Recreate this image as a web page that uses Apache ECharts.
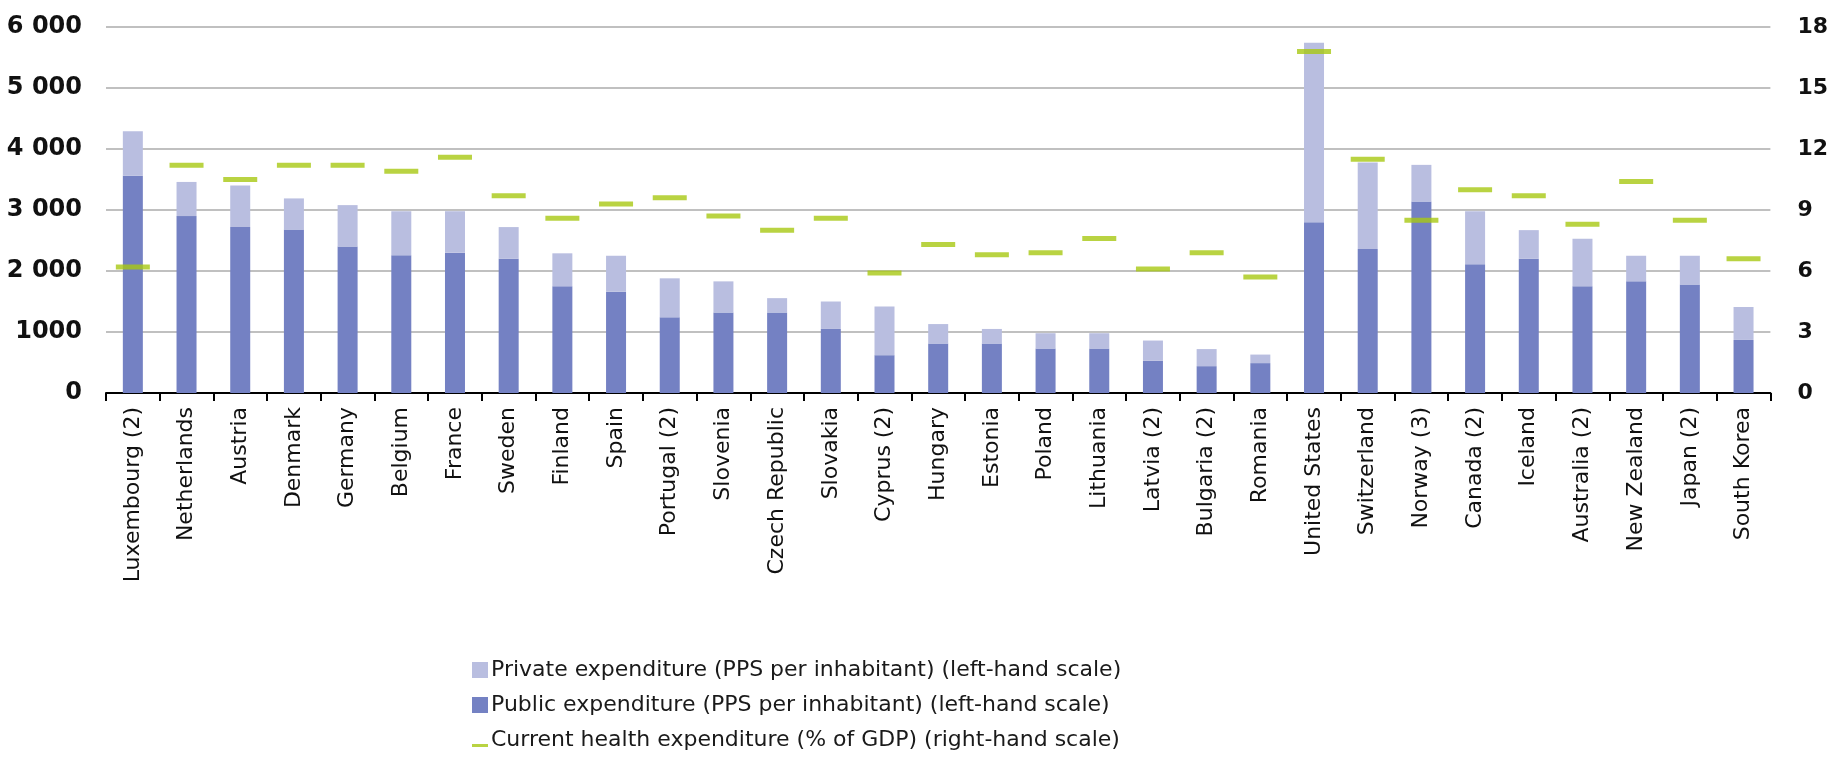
<!DOCTYPE html>
<html lang="en">
<head>
    <meta charset="UTF-8">
    <title>Health expenditure</title>
    <script src="https://cdn.jsdelivr.net/npm/echarts@6/dist/echarts.min.js"></script>
    <style>
        html, body { margin: 0; padding: 0; background: #fff; }
        #chart { width: 1831px; height: 762px; }
    </style>
</head>
<body>
    <div id="chart"></div>
    <script>
        var countries = ['Luxembourg (2)', 'Netherlands', 'Austria', 'Denmark', 'Germany', 'Belgium', 'France', 'Sweden',
            'Finland', 'Spain', 'Portugal (2)', 'Slovenia', 'Czech Republic', 'Slovakia', 'Cyprus (2)', 'Hungary',
            'Estonia', 'Poland', 'Lithuania', 'Latvia (2)', 'Bulgaria (2)', 'Romania', 'United States', 'Switzerland',
            'Norway (3)', 'Canada (2)', 'Iceland', 'Australia (2)', 'New Zealand', 'Japan (2)', 'South Korea'];
        // PPS per inhabitant
        var publicExp = [3560, 2900, 2720, 2680, 2400, 2260, 2300, 2200, 1750, 1660, 1240, 1320, 1320, 1050, 620, 810,
            810, 730, 730, 530, 440, 490, 2800, 2360, 3140, 2110, 2200, 1750, 1830, 1780, 870];
        var privateExp = [730, 560, 680, 510, 680, 720, 680, 520, 540, 590, 640, 510, 235, 450, 800, 320,
            240, 250, 250, 330, 280, 140, 2940, 1420, 600, 870, 470, 780, 420, 470, 540];
        // % of GDP
        var gdpShare = [6.2, 11.2, 10.5, 11.2, 11.2, 10.9, 11.6, 9.7, 8.6, 9.3, 9.6, 8.7, 8.0, 8.6, 5.9, 7.3,
            6.8, 6.9, 7.6, 6.1, 6.9, 5.7, 16.8, 11.5, 8.5, 10.0, 9.7, 8.3, 10.4, 8.5, 6.6];
        var leftTicks = ['0', '1000', '2 000', '3 000', '4 000', '5 000', '6 000'];
        var rightTicks = ['0', '3', '6', '9', '12', '15', '18'];

        var seriesNames = [
            'Private expenditure (PPS per inhabitant) (left-hand scale)',
            'Public expenditure (PPS per inhabitant) (left-hand scale)',
            'Current health expenditure (% of GDP) (right-hand scale)'
        ];

        var font = 'DejaVu Sans';
        var chart = echarts.init(document.getElementById('chart'));

        var option = {
            backgroundColor: '#ffffff',
            animation: false,
            grid: { left: 106, right: 50, top: 27, bottom: 369 },
            legend: {
                orient: 'vertical',
                left: 472,
                top: 659,
                padding: 0,
                itemWidth: 16,
                itemHeight: 16,
                itemGap: 13,
                selectedMode: false,
                textStyle: { fontFamily: font, fontSize: 22, color: '#1a1a1a', lineHeight: 22, padding: [0, 0, 0, -2] },
                data: [
                    { name: seriesNames[0], icon: 'rect' },
                    { name: seriesNames[1], icon: 'rect' },
                    { name: seriesNames[2], icon: 'path://M0,0L0.01,0M0,16L0.01,16M0,12H16V15H0Z' }
                ]
            },
            xAxis: {
                type: 'category',
                data: countries,
                axisLine: { lineStyle: { color: '#000', width: 2 } },
                axisTick: { show: true, length: 8, lineStyle: { color: '#000', width: 2 } },
                axisLabel: {
                    rotate: 90,
                    interval: 0,
                    margin: 14,
                    fontFamily: font,
                    fontSize: 22,
                    color: '#111'
                }
            },
            yAxis: [
                {
                    type: 'value',
                    min: 0,
                    max: 6000,
                    interval: 1000,
                    axisLine: { show: false },
                    axisTick: { show: false },
                    splitLine: { lineStyle: { color: '#c0c0c0', width: 2 } },
                    axisLabel: {
                        margin: 24,
                        fontFamily: font,
                        fontSize: 24,
                        fontWeight: 'bold',
                        color: '#111',
                        formatter: function (v) { return leftTicks[Math.round(v / 1000)]; }
                    }
                },
                {
                    type: 'value',
                    min: 0,
                    max: 18,
                    interval: 3,
                    axisLine: { show: false },
                    axisTick: { show: false },
                    splitLine: { show: false },
                    axisLabel: {
                        margin: 27,
                        fontFamily: font,
                        fontSize: 22,
                        fontWeight: 'bold',
                        color: '#111',
                        formatter: function (v) { return rightTicks[Math.round(v / 3)]; }
                    }
                }
            ],
            series: [
                {
                    name: seriesNames[1],
                    type: 'bar',
                    stack: 'exp',
                    barWidth: 20,
                    itemStyle: { color: '#7481c3' },
                    data: publicExp
                },
                {
                    name: seriesNames[0],
                    type: 'bar',
                    stack: 'exp',
                    barWidth: 20,
                    itemStyle: { color: '#b9bee0' },
                    data: privateExp
                },
                {
                    name: seriesNames[2],
                    type: 'scatter',
                    yAxisIndex: 1,
                    symbol: 'rect',
                    symbolSize: [34, 5],
                    z: 5,
                    itemStyle: { color: '#a8c813' },
                    data: gdpShare
                }
            ]
        };

        chart.setOption(option);
    </script>
</body>
</html>
